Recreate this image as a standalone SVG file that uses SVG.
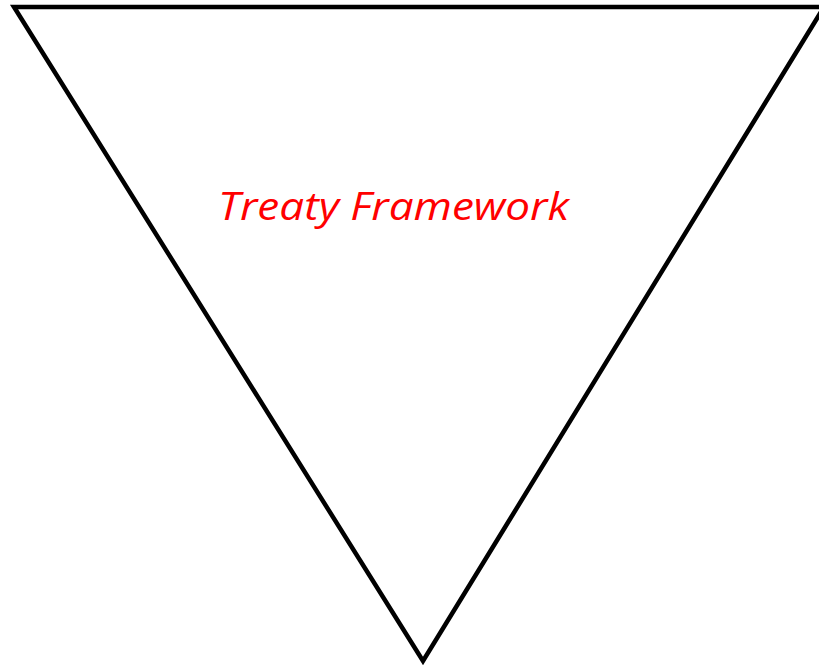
<svg xmlns="http://www.w3.org/2000/svg" width="819" height="666" viewBox="0 0 819 666">
<style>
.tri{fill:#fff;stroke:#000;stroke-width:4.5;stroke-linejoin:miter}
.lbl{font-family:"Open Sans","Liberation Sans",sans-serif;font-style:italic;font-size:38px;fill:#ff0000}
</style>
<rect width="819" height="666" fill="#fff"/>
<g id="treaty-framework">
<polygon class="tri" points="14,7 824,7 423,661"/>
<text class="lbl" x="218" y="220" textLength="351" lengthAdjust="spacingAndGlyphs">Treaty Framework</text>
</g>
</svg>
